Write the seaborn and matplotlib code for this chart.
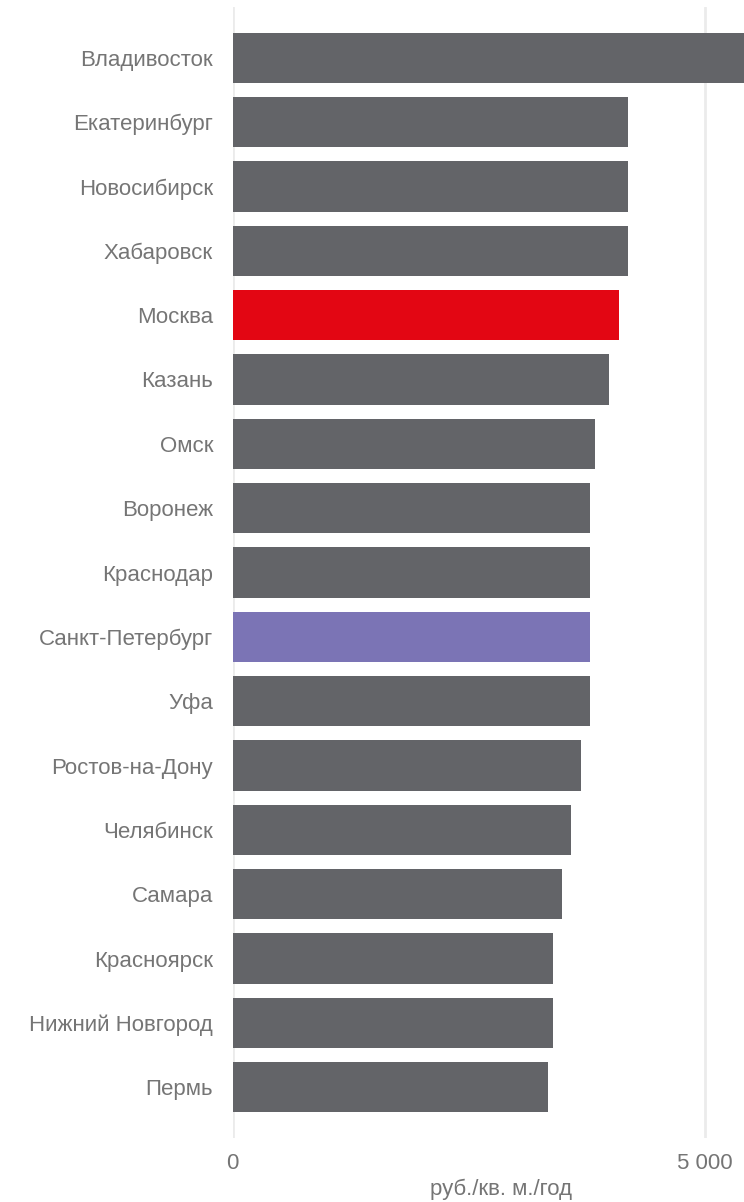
import matplotlib
matplotlib.use("Agg")
import matplotlib.pyplot as plt
import matplotlib.ticker as mticker
import seaborn as sns
import pandas as pd

# Annual rent, rub per sq. m per year, by city
cities = [
    "Владивосток", "Екатеринбург", "Новосибирск", "Хабаровск", "Москва",
    "Казань", "Омск", "Воронеж", "Краснодар", "Санкт-Петербург", "Уфа",
    "Ростов-на-Дону", "Челябинск", "Самара", "Красноярск",
    "Нижний Новгород", "Пермь",
]
values = [5700, 4190, 4190, 4190, 4095, 3990, 3840, 3790, 3790, 3790, 3790,
          3695, 3590, 3490, 3395, 3395, 3345]
x_ticks = [0, 5000]
x_label = "руб./кв. м./год"

GREY = "#636468"
RED = "#E30613"
PURPLE = "#7B74B5"
TEXT = "#757575"
GRID = "#EBEBEB"

colors = {c: GREY for c in cities}
colors["Москва"] = RED
colors["Санкт-Петербург"] = PURPLE

df = pd.DataFrame({"city": cities, "value": values})

sns.set_theme(style="white")
plt.rcParams["font.family"] = ["Liberation Sans", "DejaVu Sans"]

fig = plt.figure(figsize=(7.44, 12.02), dpi=100)
ax = fig.add_axes([232.5 / 744, 1 - 1138 / 1202, 1 - 232.5 / 744, (1138 - 7) / 1202])

sns.barplot(data=df, x="value", y="city", hue="city", palette=colors,
            order=cities, hue_order=cities, orient="h", width=0.78,
            legend=False, saturation=1, linewidth=0, ax=ax)

ax.set_xlim(0, (744 - 232.5) / 0.0944)
ax.set_ylim(len(cities) - 1 + 0.79, -0.79)

ax.set_xticks(x_ticks)
ax.xaxis.set_major_formatter(mticker.FuncFormatter(
    lambda v, p: f"{int(v):,}".replace(",", " ")))
ax.grid(axis="x", color=GRID, linewidth=2)
ax.set_axisbelow(True)
for s in ax.spines.values():
    s.set_visible(False)

ax.tick_params(axis="y", length=0, pad=14, labelsize=16, labelcolor=TEXT)
ax.tick_params(axis="x", length=0, pad=11, labelsize=16, labelcolor=TEXT)
ax.set_ylabel("")
ax.set_xlabel(x_label, fontsize=16, color=TEXT)
ax.xaxis.set_label_coords(0.525, -0.036)

fig.savefig("out.png", dpi=100)
